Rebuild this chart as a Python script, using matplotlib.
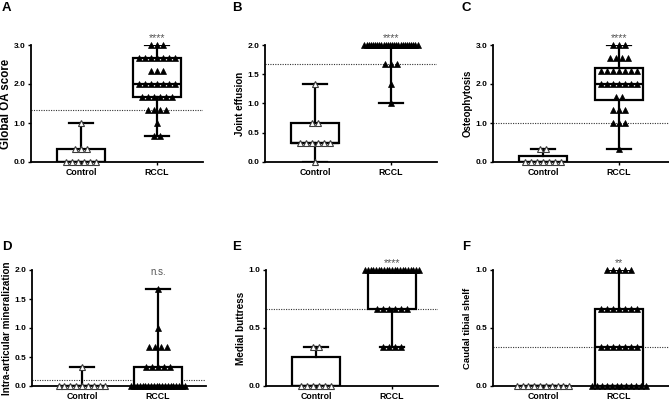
import numpy as np
import matplotlib
matplotlib.use('Agg')
import matplotlib.pyplot as plt

plt.rcParams['font.family'] = ['Liberation Sans', 'DejaVu Sans']

groups = ['Control', 'RCCL']
panel_letters = ['A', 'B', 'C', 'D', 'E', 'F']
ylabels = ['Global OA score', 'Joint effusion', 'Osteophytosis',
           'Intra-articular mineralization', 'Medial buttress', 'Caudal tibial shelf']
yticks = [[0.0, 1.0, 2.0, 3.0], [0.0, 0.5, 1.0, 1.5, 2.0], [0.0, 1.0, 2.0, 3.0],
          [0.0, 0.5, 1.0, 1.5, 2.0], [0.0, 0.5, 1.0], [0.0, 0.5, 1.0]]
thresholds = [1.333, 1.667, 1.0, 0.11, 0.667, 0.333]
signif = ['****', '****', '****', 'n.s.', '****', '**']

# scores (distinct values) and number of animals at each score
a_ctrl_vals, a_ctrl_cnt = [0.0, 0.333, 1.0], [6, 3, 1]
a_rccl_vals = [3.0, 2.667, 2.333, 2.0, 1.667, 1.333, 1.0, 0.667]
a_rccl_cnt = [3, 7, 3, 7, 6, 4, 1, 2]

b_ctrl_vals, b_ctrl_cnt = [0.0, 0.333, 0.667, 1.333], [1, 6, 2, 1]
b_rccl_vals, b_rccl_cnt = [2.0, 1.667, 1.333, 1.0], [26, 3, 1, 1]

c_ctrl_vals, c_ctrl_cnt = [0.0, 0.333], [7, 2]
c_rccl_vals = [3.0, 2.667, 2.333, 2.0, 1.667, 1.333, 1.0, 0.333]
c_rccl_cnt = [3, 4, 7, 7, 2, 3, 3, 1]

d_ctrl_vals, d_ctrl_cnt = [0.0, 0.333], [9, 1]
d_rccl_vals, d_rccl_cnt = [0.0, 0.333, 0.667, 1.0, 1.667], [20, 5, 4, 1, 1]

e_ctrl_vals, e_ctrl_cnt = [0.0, 0.333], [6, 2]
e_rccl_vals, e_rccl_cnt = [1.0, 0.667, 0.333], [21, 6, 4]

f_ctrl_vals, f_ctrl_cnt = [0.0], [10]
f_rccl_vals, f_rccl_cnt = [1.0, 0.667, 0.333, 0.0], [5, 7, 7, 12]

data = [
    ((a_ctrl_vals, a_ctrl_cnt), (a_rccl_vals, a_rccl_cnt)),
    ((b_ctrl_vals, b_ctrl_cnt), (b_rccl_vals, b_rccl_cnt)),
    ((c_ctrl_vals, c_ctrl_cnt), (c_rccl_vals, c_rccl_cnt)),
    ((d_ctrl_vals, d_ctrl_cnt), (d_rccl_vals, d_rccl_cnt)),
    ((e_ctrl_vals, e_ctrl_cnt), (e_rccl_vals, e_rccl_cnt)),
    ((f_ctrl_vals, f_ctrl_cnt), (f_rccl_vals, f_rccl_cnt)),
]

W, H = 669, 401
fig = plt.figure(figsize=(W / 100, H / 100), dpi=100)

# axes rectangles in pixels: left, top, width, height
rects = [(31, 45, 172, 117), (265, 45, 172, 117), (493, 45, 178, 117),
         (32, 270, 174, 116), (266, 270, 172, 116), (493, 270, 178, 116)]
letter_pos = [(2, 2), (232, 2), (462, 2), (2, 241), (232, 241), (462, 241)]
label_sizes = [8.3, 7.0, 7.0, 7.1, 7.2, 6.8]
sig_offset = [2.5, 2.5, 2.5, -3.3, 2.5, 2.5]
px_per_unit = 76.0
x_left = 0.342

for i in range(6):
    l, t, w, h = rects[i]
    ax = fig.add_axes([l / W, 1 - (t + h) / H, w / W, h / H])
    ax.set_xlim(x_left, x_left + w / px_per_unit)
    ymax = yticks[i][-1]
    ax.set_ylim(0, ymax)

    ax.axhline(thresholds[i], color='#333333', lw=0.8, ls=(0, (1, 1.2)), zorder=1)

    stats = []
    for g, (vals, cnts) in enumerate(data[i]):
        arr = np.repeat(vals, cnts)
        q1, med, q3 = np.percentile(arr, [25, 50, 75], method='weibull')
        stats.append(dict(med=med, q1=q1, q3=q3, whislo=arr.min(),
                          whishi=arr.max(), fliers=[]))
    ax.bxp(stats, positions=[1, 2], widths=0.64, capwidths=0.32,
           showfliers=False, patch_artist=True,
           boxprops=dict(facecolor='white', edgecolor='black', linewidth=1.6),
           medianprops=dict(color='black', linewidth=1.6),
           whiskerprops=dict(color='black', linewidth=1.6),
           capprops=dict(color='black', linewidth=1.6),
           manage_ticks=False, zorder=2)

    for g, (vals, cnts) in enumerate(data[i]):
        for v, k in zip(vals, cnts):
            step = 0.077 if k < 2 else min(0.077, 0.70 / (k - 1))
            xs = 1 + g + (np.arange(k) - (k - 1) / 2) * step
            ys = np.full(k, v)
            if g == 0:
                ax.plot(xs, ys, ls='none', marker='^', ms=4.4, mfc='white',
                        mec='#3a3a3a', mew=0.8, clip_on=False, zorder=4)
            else:
                ax.plot(xs, ys, ls='none', marker='^', ms=4.4, mfc='black',
                        mec='black', mew=0.5, clip_on=False, zorder=4)

    for s in ['top', 'right']:
        ax.spines[s].set_visible(False)
    for s in ['left', 'bottom']:
        ax.spines[s].set_linewidth(1.3)
    ax.set_yticks(yticks[i])
    ax.set_yticklabels(['%.1f' % v for v in yticks[i]], fontsize=6, fontweight='bold')
    ax.set_xticks([1, 2])
    ax.set_xticklabels(groups, fontsize=6.3, fontweight='bold')
    ax.tick_params(axis='both', direction='out', length=2.5, width=1.0, pad=1.5)
    ax.set_ylabel(ylabels[i], fontsize=label_sizes[i], fontweight='bold')
    ax.yaxis.label.set_va('center')
    ax.yaxis.set_label_coords(-25.0 / w, 0.5)

    if signif[i] == 'n.s.':
        ax.annotate(signif[i], (2, ymax), xytext=(0, sig_offset[i]),
                    textcoords='offset points', ha='center', va='baseline',
                    fontsize=7, color='#555555', annotation_clip=False)
    else:
        ax.annotate(signif[i], (2, ymax), xytext=(0, sig_offset[i]),
                    textcoords='offset points', ha='center', va='baseline',
                    fontsize=7.8, color='#555555', annotation_clip=False)

    lx, ly = letter_pos[i]
    fig.text(lx / W, 1 - ly / H, panel_letters[i], fontsize=9.5,
             fontweight='bold', ha='left', va='top')

fig.savefig('out.png', dpi=100)
